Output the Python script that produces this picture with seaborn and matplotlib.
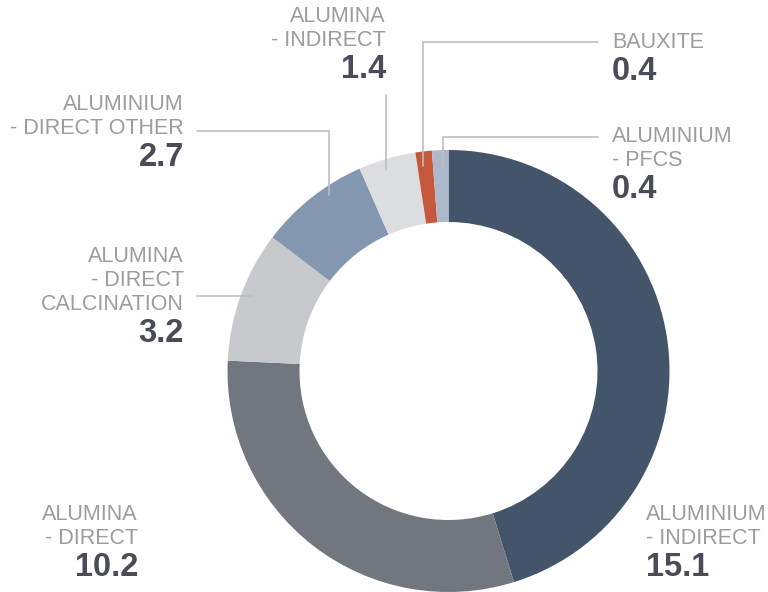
import matplotlib
matplotlib.use("Agg")
import matplotlib.pyplot as plt
import seaborn as sns

# data, clockwise from 12 o'clock
names = ["ALUMINIUM\n- INDIRECT", "ALUMINA\n- DIRECT", "ALUMINA\n- DIRECT\nCALCINATION",
         "ALUMINIUM\n- DIRECT OTHER", "ALUMINA\n- INDIRECT", "BAUXITE", "ALUMINIUM\n- PFCS"]
values = [15.1, 10.2, 3.2, 2.7, 1.4, 0.4, 0.4]
colors = ["#44546A", "#72767F", "#C8C9CD", "#8497B0", "#DCDDE0", "#C5573A", "#ADB9CA"]

sns.set_style("white")
plt.rcParams["font.family"] = ["Liberation Sans", "DejaVu Sans"]

W, H = 768, 592
fig = plt.figure(figsize=(W / 100, H / 100), dpi=100)
ax = fig.add_axes([0, 0, 1, 1])

ax.pie(values, colors=colors, startangle=90, counterclock=False,
       radius=221, center=(448.5, H - 371),
       wedgeprops=dict(width=72, linewidth=0))
ax.set_xlim(0, W)
ax.set_ylim(0, H)
ax.set_aspect("equal")
ax.axis("off")

name_col = "#9C9C9C"
val_col = "#4A4D57"
line_col = "#BDBDBD"

# label placement in pixel coords (x, top y, alignment)
spots = [(646, 503, "left"), (138, 503, "right"), (184, 246, "right"),
         (184, 94, "right"), (386, 6, "right"), (612, 32, "left"), (612, 125, "left")]

for name, val, (x, y, ha) in zip(names, values, spots):
    lines = name.split("\n")
    for i, ln in enumerate(lines):
        ax.text(x, H - (y + 11 + i * 24), ln, ha=ha, va="center",
                fontsize=15.5, color=name_col)
    ax.text(x, H - (y + 11 + len(lines) * 24 + 5), f"{val:.1f}", ha=ha, va="center",
            fontsize=23.5, fontweight="bold", color=val_col)

# leader lines (pixel coords)
leaders = [
    [(386, 95), (386, 170)],
    [(598, 42), (423, 42), (423, 166)],
    [(598, 137), (443, 137), (443, 168)],
    [(197, 131), (329, 131), (329, 195)],
    [(197, 296), (252, 296)],
]
for pts in leaders:
    xs = [p[0] for p in pts]
    ys = [H - p[1] for p in pts]
    ax.plot(xs, ys, color=line_col, lw=1.2, zorder=5)

fig.savefig("out.png", dpi=100)
